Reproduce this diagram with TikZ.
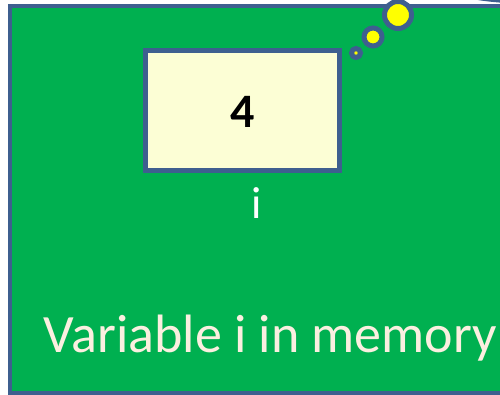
\documentclass[tikz,border=0pt]{standalone}
\usepackage{fontspec}
\setmainfont{Carlito}
\definecolor{bggreen}{HTML}{00B050}
\definecolor{edgeblue}{HTML}{3E5F8F}
\definecolor{cellfill}{HTML}{FCFED5}
\definecolor{cream}{HTML}{FBEFE0}
\definecolor{bubbleyellow}{HTML}{FFFF00}
\tikzset{
  panel/.style={fill=bggreen, draw=edgeblue, line width=4.5pt},
  cell/.style={fill=cellfill, draw=edgeblue, line width=5pt},
  bubble/.style={fill=bubbleyellow, draw=edgeblue, line width=5pt},
}
\begin{document}
\begin{tikzpicture}[x=1pt,y=-1pt]
\useasboundingbox (0,0) rectangle (500,395);
\begin{scope}
\clip (0,0) rectangle (500,395);
\path[panel] (10,6) rectangle (560,393);
\path[bubble, line width=4.5pt] (545,-9) ellipse [x radius=85, y radius=11];
\path[cell] (145.5,50.5) rectangle (339.5,170.5);
\node[font=\bfseries\fontsize{48}{52}\selectfont, text=black] (val) at (242.5,112) {4};
\node[font=\fontsize{45}{50}\selectfont, text=white] (name) at (257,203) {i};
\node[font=\fontsize{54}{60}\selectfont, text=cream, anchor=base] (caption) at (270.5,352) {Variable i in memory};
\path[bubble, line width=5pt] (356,53) circle [radius=4.5];
\path[bubble] (373,37) circle [radius=9];
\path[bubble] (398,15) circle [radius=13.5];
\end{scope}
\end{tikzpicture}
\end{document}
